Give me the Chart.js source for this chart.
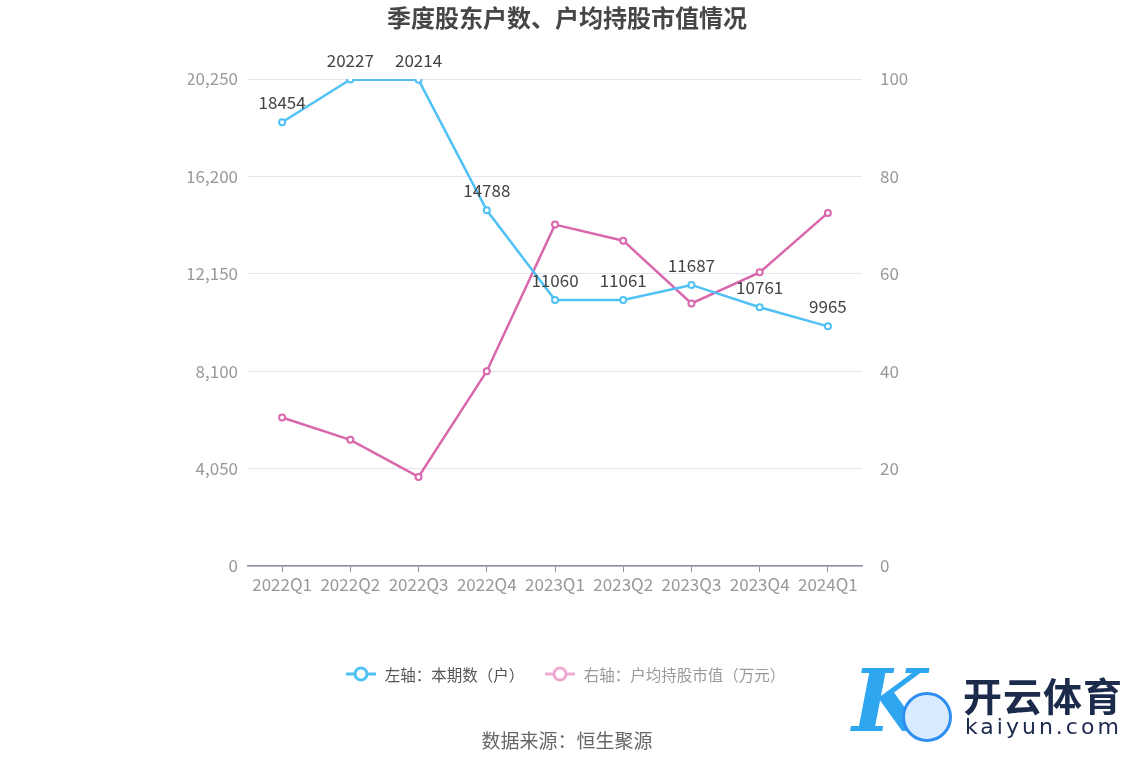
<!DOCTYPE html>
<html>
<head>
<meta charset="utf-8">
<script src="https://cdn.jsdelivr.net/npm/chart.js@4.4.1/dist/chart.umd.min.js"></script>
<style>
  body { margin: 0; background: #fff; font-family: "Noto Sans CJK SC", "Noto Sans", sans-serif; }
  #wrap { position: relative; width: 1134px; height: 766px; }
  #title { position: absolute; top: -1px; left: 0; width: 1134px; text-align: center; font-size: 24px; font-weight: bold; color: #464646; }
  #legend { position: absolute; top: 663px; left: -2px; width: 1134px; text-align: center; font-size: 15.5px; }
  .item { display: inline-flex; align-items: center; margin: 0 8px; }
  .item svg { margin-right: 8px; }
  #source { position: absolute; top: 726px; left: 0; width: 1134px; text-align: center; font-size: 19px; color: #666; }
  #mark { position: absolute; left: 850px; top: 662px; width: 280px; height: 90px; }
  #mark .cn { position: absolute; left: 113px; top: 4px; font-size: 39px; font-weight: bold; color: #1c2a4c; letter-spacing: 1px; }
  #mark .en { position: absolute; left: 115px; top: 52px; font-size: 22px; color: #1c2a4c; letter-spacing: 3px; font-family: "DejaVu Sans", sans-serif; }
  #mark .k { position: absolute; left: 2px; top: -12px; font-size: 86px; font-style: italic; font-weight: bold; color: #2fa6f0; font-family: "DejaVu Serif", serif; }
  #mark .ball { position: absolute; left: 52px; top: 30px; width: 44px; height: 44px; border-radius: 50%; border: 3px solid #2f8ff0; background: #d9ecff; }
</style>
</head>
<body>
<div id="wrap">
  <canvas id="myChart" width="1134" height="766"></canvas>
  <div id="title">季度股东户数、户均持股市值情况</div>
  <div id="legend">
    <span class="item" style="color:#555">
      <svg width="32" height="16"><line x1="1" y1="8" x2="31" y2="8" stroke="#4fc1f5" stroke-width="3"/><circle cx="16" cy="8" r="6" fill="#fff" stroke="#4fc1f5" stroke-width="3"/></svg>左轴：本期数（户）
    </span>
    <span class="item" style="color:#999">
      <svg width="32" height="16"><line x1="1" y1="8" x2="31" y2="8" stroke="#eeaad3" stroke-width="3"/><circle cx="16" cy="8" r="6" fill="#fff" stroke="#eeaad3" stroke-width="3"/></svg>右轴：户均持股市值（万元）
    </span>
  </div>
  <div id="source">数据来源：恒生聚源</div>
  <div id="mark">
    <div class="k">K</div>
    <div class="ball"></div>
    <div class="cn">开云体育</div>
    <div class="en">kaiyun.com</div>
  </div>
</div>
<script>
// chart data
const quarters = ["2022Q1", "2022Q2", "2022Q3", "2022Q4", "2023Q1", "2023Q2", "2023Q3", "2023Q4", "2024Q1"];
const holders = [18454, 20227, 20214, 14788, 11060, 11061, 11687, 10761, 9965];
const avgValue = [30.5, 25.9, 18.3, 40.0, 70.1, 66.8, 53.9, 60.3, 72.5];
const leftTicks = [0, 4050, 8100, 12150, 16200, 20250];
const rightTicks = [0, 20, 40, 60, 80, 100];

const blue = "#4fc1f5";
const pink = "#d867ac";

// draws the numbers above the blue line
const pointLabels = {
    id: "pointLabels",
    afterDatasetsDraw(chart) {
        const ctx = chart.ctx;
        const meta = chart.getDatasetMeta(0);
        ctx.save();
        ctx.font = '17px "Noto Sans CJK SC", sans-serif';
        ctx.fillStyle = "#444";
        ctx.textAlign = "center";
        ctx.textBaseline = "bottom";
        meta.data.forEach((pt, i) => {
            ctx.fillText(String(holders[i]), pt.x, pt.y - 11);
        });
        ctx.restore();
    }
};

const tickFont = { family: '"Noto Sans CJK SC", sans-serif', size: 17 };

new Chart(document.getElementById("myChart"), {
    type: "line",
    data: {
        labels: quarters,
        datasets: [
            {
                label: "左轴：本期数（户）",
                data: holders,
                yAxisID: "yL",
                borderColor: blue,
                backgroundColor: "#fff",
                borderWidth: 2.5,
                pointRadius: 3,
                pointBorderWidth: 2,
                pointBackgroundColor: "#fff",
                pointBorderColor: blue,
                tension: 0
            },
            {
                label: "右轴：户均持股市值（万元）",
                data: avgValue,
                yAxisID: "yR",
                borderColor: pink,
                backgroundColor: "#fff",
                borderWidth: 2.5,
                pointRadius: 3,
                pointBorderWidth: 2,
                pointBackgroundColor: "#fff",
                pointBorderColor: pink,
                tension: 0
            }
        ]
    },
    options: {
        responsive: false,
        animation: false,
        layout: { padding: { left: 188, right: 212, top: 79, bottom: 160 } },
        plugins: {
            legend: { display: false },
            title: { display: false },
            tooltip: { enabled: false }
        },
        scales: {
            x: {
                offset: true,
                grid: { offset: false, drawOnChartArea: false, drawTicks: true, tickLength: 6, color: "#8a8f99" },
                border: { color: "#8a8f99", width: 1.5 },
                ticks: { color: "#999", font: tickFont, padding: 2, maxRotation: 0, autoSkip: false },
                afterFit(scale) { scale.height = 40; }
            },
            yL: {
                position: "left",
                min: 0,
                max: 20250,
                afterBuildTicks(scale) { scale.ticks = leftTicks.map(v => ({ value: v })); },
                ticks: { color: "#999", font: tickFont, padding: 10, callback: v => v.toLocaleString("en-US") },
                grid: { color: "#e3e6f0", drawTicks: false, lineWidth: 1 },
                border: { display: false },
                afterFit(scale) { scale.width = 60; }
            },
            yR: {
                position: "right",
                min: 0,
                max: 100,
                afterBuildTicks(scale) { scale.ticks = rightTicks.map(v => ({ value: v })); },
                ticks: { color: "#999", font: tickFont, padding: 10 },
                grid: { display: false },
                border: { display: false },
                afterFit(scale) { scale.width = 60; }
            }
        }
    },
    plugins: [pointLabels]
});
</script>
</body>
</html>
